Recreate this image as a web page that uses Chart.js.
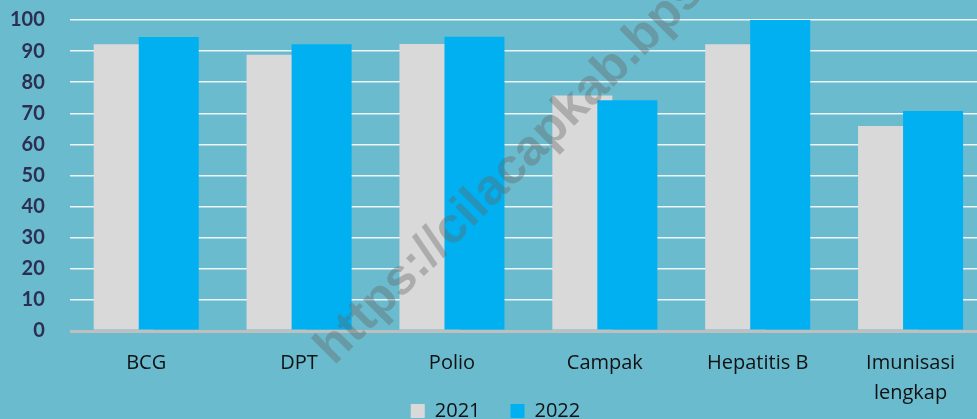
<!DOCTYPE html>
<html>
<head>
<meta charset="utf-8">
<script src="https://cdn.jsdelivr.net/npm/chart.js@4/dist/chart.umd.min.js"></script>
<style>
  html, body { margin: 0; padding: 0; overflow: hidden; background: #6bbbcf; }
  #wrap { width: 987px; height: 419px; }
</style>
</head>
<body>
<div id="wrap"><canvas id="chart"></canvas></div>
<script>
var categories = ["BCG", "DPT", "Polio", "Campak", "Hepatitis B", ["Imunisasi", "lengkap"]];
var values2021 = [92.2, 88.8, 92.3, 75.7, 92.2, 65.9];
var values2022 = [94.5, 92.2, 94.6, 74.2, 100, 70.7];
var yTicks = [0, 10, 20, 30, 40, 50, 60, 70, 80, 90, 100];

// the x labels run down beside the legend, so let them draw below the axis box
var labelRoom = {
  id: "labelRoom",
  afterLayout: function (chart) {
    chart.scales.x.bottom = chart.height;
  }
};

// bars overlap; draw 2021 first so 2022 sits on top
var drawOrder = {
  id: "drawOrder",
  beforeDatasetsDraw: function (chart) {
    chart.getSortedVisibleDatasetMetas().forEach(function (meta) {
      meta.controller.draw();
    });
    return false;
  }
};

var watermark = {
  id: "watermark",
  afterDraw: function (chart) {
    var c = chart.ctx;
    c.save();
    c.translate(334, 366);
    c.rotate(-Math.PI / 4);
    c.font = "bold 50px 'Liberation Sans'";
    c.fillStyle = "rgba(100,100,100,0.38)";
    c.textAlign = "left";
    c.textBaseline = "alphabetic";
    c.fillText("https://cilacapkab.bps.go.id", 0, 0);
    c.restore();
  }
};

var ctx = document.getElementById("chart").getContext("2d");

const chart = new Chart(ctx, {
  type: "bar",
  data: {
    labels: categories,
    datasets: [
      {
        label: "2021",
        data: values2021,
        backgroundColor: "#d9d9d9",
      },
      {
        label: "2022",
        data: values2022,
        backgroundColor: "#00b0f0",
      },
    ],
  },
  options: {
    responsive: true,
    maintainAspectRatio: false,
    animation: false,
    categoryPercentage: 0.589,
    barPercentage: 1.333,
    layout: { padding: { top: 20, left: 4, right: 0, bottom: -12 } },
    plugins: {
      tooltip: { enabled: false },
      legend: {
        position: "bottom",
        labels: {
          boxWidth: 14,
          boxHeight: 14,
          padding: 30,
          color: "#111",
          font: { family: "'Open Sans'", size: 20 },
        },
      },
    },
    scales: {
      x: {
        grid: { display: false },
        border: { display: false },
        ticks: {
          color: "#111",
          padding: 9,
          maxRotation: 0,
          font: { family: "'Open Sans'", size: 20, lineHeight: 1.5 },
        },
        afterFit: function (scale) {
          scale.height = 40;
        },
      },
      y: {
        min: 0,
        max: 100,
        afterBuildTicks: function (scale) {
          scale.ticks = yTicks.map(function (v) { return { value: v }; });
        },
        border: { display: false },
        grid: {
          drawTicks: true,
          tickLength: 19,
          tickColor: "rgba(0,0,0,0)",
          color: function (c) { return c.tick && c.tick.value === 0 ? "#bfbfbf" : "#eef5f7"; },
          lineWidth: function (c) { return c.tick && c.tick.value === 0 ? 3 : 1.5; },
        },
        ticks: {
          color: "#2d2f52",
          padding: 6,
          font: { family: "Lato", size: 20, weight: "bold" },
        },
      },
    },
  },
  plugins: [labelRoom, drawOrder, watermark],
});
</script>
</body>
</html>
